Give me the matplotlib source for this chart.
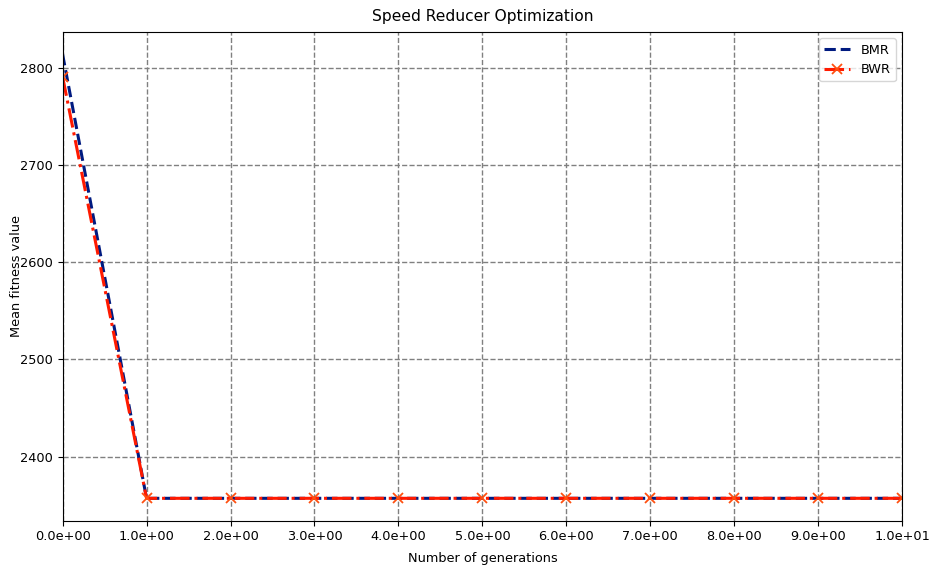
import matplotlib
matplotlib.use('Agg')
import matplotlib.pyplot as plt
from matplotlib.ticker import FormatStrFormatter

plt.rcParams['font.size'] = 9.3

# mean fitness per generation
generations = [0, 1, 2, 3, 4, 5, 6, 7, 8, 9, 10]
bmr_fitness = [2814, 2357, 2357, 2357, 2357, 2357, 2357, 2357, 2357, 2357, 2357]
bwr_fitness = [2791, 2357, 2357, 2357, 2357, 2357, 2357, 2357, 2357, 2357, 2357]

fig, ax = plt.subplots(figsize=(9.34, 5.72), dpi=100)
ax.plot(generations, bmr_fitness, linestyle='--', color='#001a80', linewidth=2.2, label='BMR')
ax.plot(generations, bwr_fitness, linestyle='-.', color='#ff1a00', linewidth=2.2,
        marker='x', markersize=7, markeredgecolor='#ff5010', markeredgewidth=1.3, label='BWR')

ax.set_xlim(0, 10)
ax.set_xticks(generations)
ax.xaxis.set_major_formatter(FormatStrFormatter('%.1e'))
ax.set_yticks([2400, 2500, 2600, 2700, 2800])
ax.grid(True, linestyle='--', color='gray', linewidth=1)
ax.set_title('Speed Reducer Optimization', pad=8)
ax.set_xlabel('Number of generations', labelpad=6)
ax.set_ylabel('Mean fitness value')
ax.yaxis.set_label_coords(-0.047, 0.5)
ax.legend(loc='upper right')

fig.subplots_adjust(left=0.067, right=0.966, top=0.944, bottom=0.09)
fig.savefig('out.png', dpi=100)
